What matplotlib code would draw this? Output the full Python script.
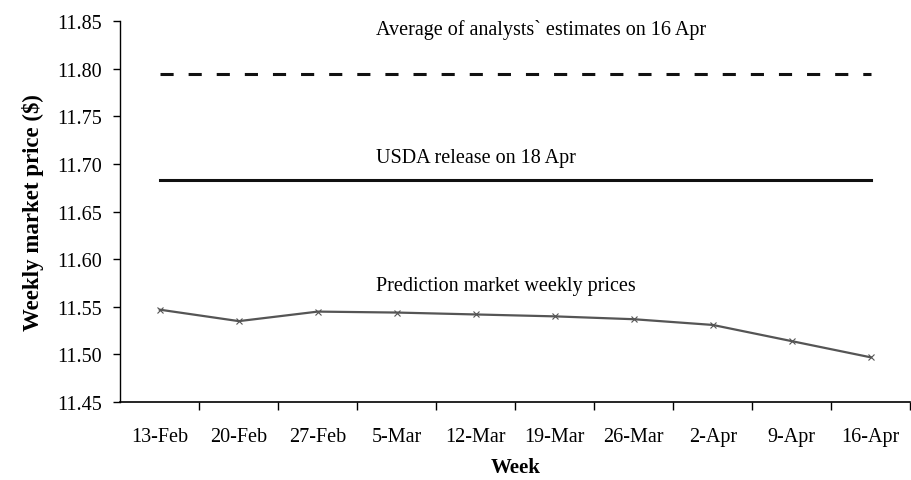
import numpy as np
import matplotlib.pyplot as plt

# data
weeks = ['13-Feb', '20-Feb', '27-Feb', '5-Mar', '12-Mar', '19-Mar',
         '26-Mar', '2-Apr', '9-Apr', '16-Apr']
market_prices = [11.547, 11.535, 11.545, 11.544, 11.542, 11.540,
                 11.537, 11.531, 11.514, 11.497]
analyst_avg = 11.795
usda_release = 11.683

plt.rcParams['font.family'] = ['Liberation Serif', 'DejaVu Serif']

fig = plt.figure(figsize=(9.12, 4.81), dpi=100)
ax = fig.add_axes([0.132, 0.162, 0.866, 0.792])

x = np.arange(len(weeks))
ax.plot(x, [analyst_avg] * len(x), color='#111111', lw=2.2, dashes=(4.3, 4.9))
ax.plot(x, [usda_release] * len(x), color='#111111', lw=2.2)
ax.plot(x, market_prices, color='#555555', lw=1.6, marker='x', ms=4, mew=0.8)

ax.text(2.74, 11.842, 'Average of analysts` estimates on 16 Apr', fontsize=14.5, va='center')
ax.text(2.74, 11.707, 'USDA release on 18 Apr', fontsize=14.5, va='center')
ax.text(2.74, 11.572, 'Prediction market weekly prices', fontsize=14.5, va='center')

ax.set_xlim(-0.5, 9.5)
ax.set_ylim(11.45, 11.85)
ax.set_yticks(np.arange(11.45, 11.851, 0.05))
ax.set_yticklabels(['%.2f' % v for v in np.arange(11.45, 11.851, 0.05)])
ax.set_xticks(x)
ax.set_xticklabels(weeks)
ax.set_xticks(np.arange(0.5, 9.6, 1), minor=True)
ax.tick_params(axis='x', which='major', length=0, pad=18, labelsize=14.5)
ax.tick_params(axis='x', which='minor', length=6, direction='out', width=1)
ax.tick_params(axis='y', length=5, direction='out', width=1, labelsize=14.5, pad=8)

ax.spines['top'].set_visible(False)
ax.spines['right'].set_visible(False)
ax.spines['left'].set_linewidth(1)
ax.spines['bottom'].set_linewidth(1.2)

ax.set_xlabel('Week', fontsize=15, fontweight='bold', labelpad=8)
ax.set_ylabel('Weekly market price ($)', fontsize=16.5, fontweight='bold', labelpad=10)

fig.savefig('out.png', dpi=100)
